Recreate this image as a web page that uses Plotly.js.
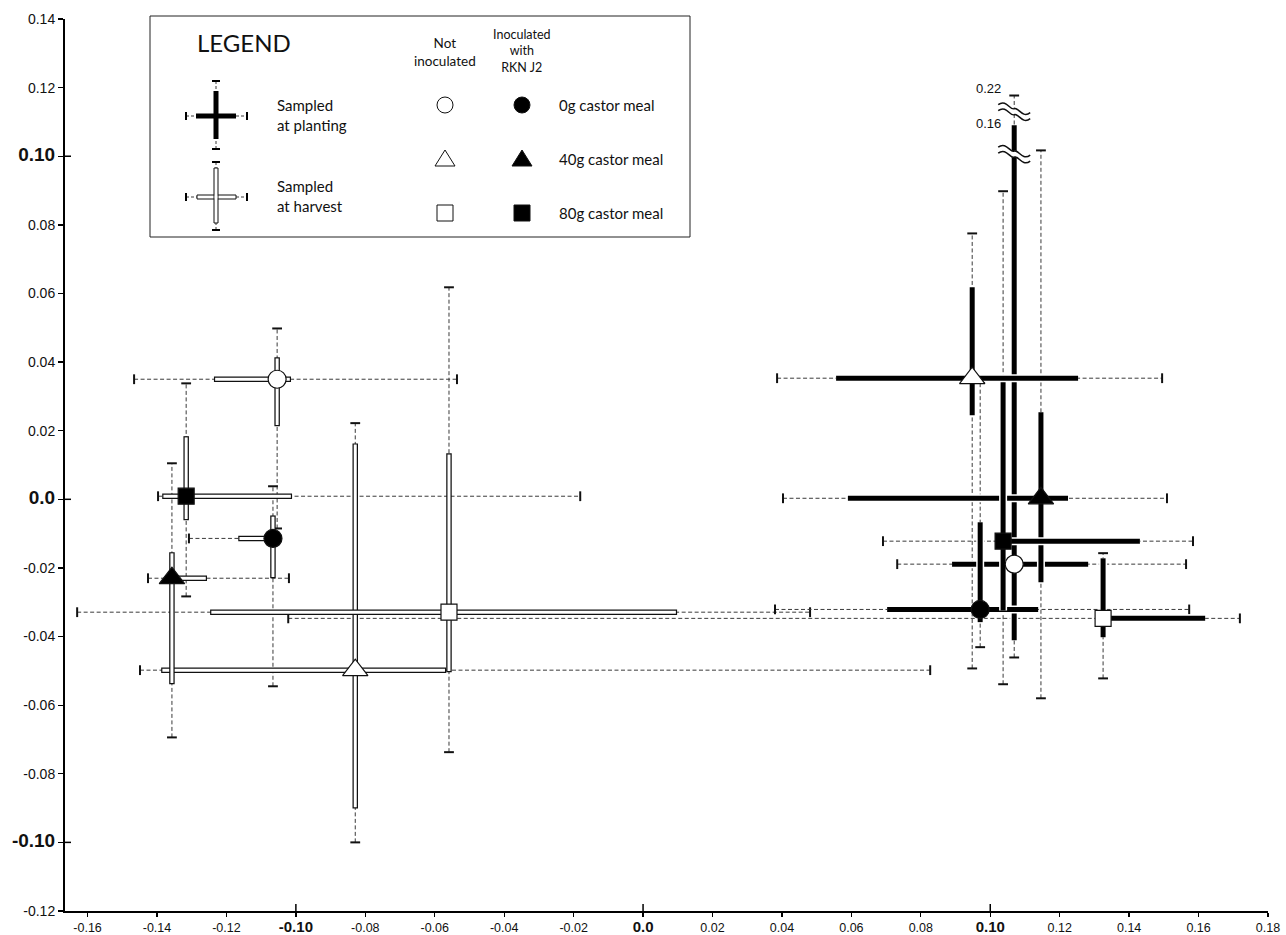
<!DOCTYPE html>
<html><head><meta charset="utf-8">
<script src="https://cdn.plot.ly/plotly-3.0.1.min.js"></script>
<style>html,body{margin:0;padding:0;background:#fff}#chart{width:1286px;height:935px}</style>
</head><body><div id="chart"></div>
<script>
// ---------- DATA ----------
// treatment order: 0g not inoc, 0g inoc, 40g not inoc, 40g inoc, 80g not inoc, 80g inoc
const treatments = ['0g castor meal','0g castor meal','40g castor meal','40g castor meal','80g castor meal','80g castor meal'];
const inoculated = [false, true, false, true, false, true];
const symbols = ['circle','circle','triangle-up','triangle-up','square','square'];

// Sampled at harvest
const harvestX       = [-0.1054, -0.1066, -0.0829, -0.1357, -0.0559, -0.1316];
const harvestY       = [ 0.0350, -0.0114, -0.0498, -0.0230, -0.0329,  0.0009];
const harvestXInLo   = [-0.1236, -0.1166, -0.1388, -0.1377, -0.1247, -0.1385];
const harvestXInHi   = [-0.1014, -0.1066, -0.0567, -0.1256,  0.0098, -0.1011];
const harvestXOutLo  = [-0.1466, -0.1308, -0.1449, -0.1426, -0.1630, -0.1397];
const harvestXOutHi  = [-0.0536, -0.1066,  0.0827, -0.1020,  0.0481, -0.0181];
const harvestYInLo   = [ 0.0213, -0.0230, -0.0901, -0.0539, -0.0504, -0.0061];
const harvestYInHi   = [ 0.0414, -0.0047,  0.0163, -0.0154,  0.0134,  0.0184];
const harvestYOutLo  = [-0.0085, -0.0545, -0.1000, -0.0694, -0.0737, -0.0283];
const harvestYOutHi  = [ 0.0498,  0.0038,  0.0222,  0.0105,  0.0618,  0.0338];

// Sampled at planting
const plantingX      = [ 0.1069,  0.0971,  0.0948,  0.1146,  0.1325,  0.1037];
const plantingY      = [-0.0189, -0.0321,  0.0353,  0.0003, -0.0347, -0.0122];
const plantingXInLo  = [ 0.0890,  0.0703,  0.0556,  0.0590,  0.1325,  0.1037];
const plantingXInHi  = [ 0.1282,  0.1138,  0.1253,  0.1224,  0.1619,  0.1431];
const plantingXOutLo = [ 0.0732,  0.0380,  0.0386,  0.0403, -0.1022,  0.0691];
const plantingXOutHi = [ 0.1564,  0.1573,  0.1495,  0.1509,  0.1719,  0.1584];
const plantingYInLo  = [-0.0411, -0.0358,  0.0245, -0.0242, -0.0402, -0.0324];
const plantingYInHi  = [ 0.16,   -0.0067,  0.0618,  0.0254, -0.0172,  0.0341];
const plantingYOutLo = [-0.0461, -0.0431, -0.0493, -0.0580, -0.0522, -0.0539];
const plantingYOutHi = [ 0.22,    0.0341,  0.0775,  0.1017, -0.0157,  0.0898];

// broken axis: real values above the axis top and where they are drawn
const breakValues  = [0.16, 0.22];
const breakDisplay = [0.1090, 0.1177];
const breakLabels  = ['0.16', '0.22'];

// axis ticks
const xTickVals   = [-0.16,-0.14,-0.12,-0.10,-0.08,-0.06,-0.04,-0.02,0,0.02,0.04,0.06,0.08,0.10,0.12,0.14,0.16,0.18];
const xTickLabels = ['-0.16','-0.14','-0.12','-0.10','-0.08','-0.06','-0.04','-0.02','0.0','0.02','0.04','0.06','0.08','0.10','0.12','0.14','0.16','0.18'];
const yTickVals   = [0.14,0.12,0.10,0.08,0.06,0.04,0.02,0,-0.02,-0.04,-0.06,-0.08,-0.10,-0.12];
const yTickLabels = ['0.14','0.12','0.10','0.08','0.06','0.04','0.02','0.0','-0.02','-0.04','-0.06','-0.08','-0.10','-0.12'];
const boldTicks   = ['-0.10','0.0','0.10'];

// legend texts
const legendTitle = 'LEGEND';
const stageLabels = ['Sampled<br>at planting', 'Sampled<br>at harvest'];
const columnLabels = ['Not<br>inoculated', 'Inoculated<br>with<br>RKN J2'];
const rowLabels = ['0g castor meal', '40g castor meal', '80g castor meal'];

// ---------- LAYOUT GEOMETRY ----------
const FIG_W = 1286, FIG_H = 935;
const M = {l: 65, r: 18, t: 19, b: 24};
const L = M.l, R = FIG_W - M.r, T = M.t, B = FIG_H - M.b;
const PW = R - L, PH = B - T;
const X_RANGE = [-0.1665, 0.18], Y_RANGE = [-0.12, 0.14];
const pxX = x => (x - L) / PW;
const pxY = y => (B - y) / PH;
const dataPerPxX = (X_RANGE[1] - X_RANGE[0]) / PW;
const dataPerPxY = (Y_RANGE[1] - Y_RANGE[0]) / PH;

function disp(v) {
  if (v <= Y_RANGE[1]) return v;
  const [v0, v1] = breakValues, [d0, d1] = breakDisplay;
  return d0 + (v - v0) * (d1 - d0) / (v1 - v0);
}

function stage(xs, ys, xil, xih, xol, xoh, yil, yih, yol, yoh) {
  return {x: xs, y: ys, xInLo: xil, xInHi: xih, xOutLo: xol, xOutHi: xoh, yInLo: yil, yInHi: yih, yOutLo: yol, yOutHi: yoh};
}
const harvest = stage(harvestX, harvestY, harvestXInLo, harvestXInHi, harvestXOutLo, harvestXOutHi, harvestYInLo, harvestYInHi, harvestYOutLo, harvestYOutHi);
const planting = stage(plantingX, plantingY, plantingXInLo, plantingXInHi, plantingXOutLo, plantingXOutHi, plantingYInLo, plantingYInHi, plantingYOutLo, plantingYOutHi);

const DASH_COLOR = '#3a3a3a';
function dashedTraces(S) {
  const dx = [], dy = [], chx = [], chy = [], cvx = [], cvy = [];
  for (let i = 0; i < S.x.length; i++) {
    dx.push(S.xOutLo[i], S.xOutHi[i], null, S.x[i], S.x[i], null);
    dy.push(S.y[i], S.y[i], null, disp(S.yOutLo[i]), disp(S.yOutHi[i]), null);
    if (S.xOutLo[i] < S.x[i] - 1e-6) { chx.push(S.xOutLo[i]); chy.push(S.y[i]); }
    if (S.xOutHi[i] > S.x[i] + 1e-6) { chx.push(S.xOutHi[i]); chy.push(S.y[i]); }
    if (S.yOutLo[i] < S.y[i] - 1e-6) { cvx.push(S.x[i]); cvy.push(disp(S.yOutLo[i])); }
    if (S.yOutHi[i] > S.y[i] + 1e-6) { cvx.push(S.x[i]); cvy.push(disp(S.yOutHi[i])); }
  }
  return [
    {type: 'scatter', mode: 'lines', x: dx, y: dy, line: {color: DASH_COLOR, width: 1, dash: '4px,2.5px'}, hoverinfo: 'skip', showlegend: false},
    {type: 'scatter', mode: 'markers', x: chx, y: chy, marker: {symbol: 'line-ns', size: 7, opacity: 1, color: '#111', line: {color: '#111', width: 2}}, hoverinfo: 'skip', showlegend: false},
    {type: 'scatter', mode: 'markers', x: cvx, y: cvy, marker: {symbol: 'line-ew', size: 7, opacity: 1, color: '#111', line: {color: '#111', width: 2}}, hoverinfo: 'skip', showlegend: false}
  ];
}

function barTraces(S, isPlanting) {
  const out = [];
  const ex = 1.2 * dataPerPxX, ey = 1.2 * dataPerPxY;
  for (let i = 0; i < S.x.length; i++) {
    const bx = [S.xInLo[i], S.xInHi[i], null, S.x[i], S.x[i]];
    const by = [S.y[i], S.y[i], null, disp(S.yInLo[i]), disp(S.yInHi[i])];
    if (isPlanting) {
      out.push({type: 'scatter', mode: 'lines', x: bx, y: by, line: {color: '#fff', width: 8}, hoverinfo: 'skip', showlegend: false});
      out.push({type: 'scatter', mode: 'lines', x: bx, y: by, line: {color: '#000', width: 5}, hoverinfo: 'skip', showlegend: false});
    } else {
      const fx = [S.xInLo[i] + ex, S.xInHi[i] - ex, null, S.x[i], S.x[i]];
      const fy = [S.y[i], S.y[i], null, disp(S.yInLo[i]) + ey, disp(S.yInHi[i]) - ey];
      out.push({type: 'scatter', mode: 'lines', x: bx, y: by, line: {color: '#111', width: 5.5}, hoverinfo: 'skip', showlegend: false});
      out.push({type: 'scatter', mode: 'lines', x: fx, y: fy, line: {color: '#fff', width: 3}, hoverinfo: 'skip', showlegend: false});
    }
  }
  return out;
}

function markerTrace(S) {
  return {
    type: 'scatter', mode: 'markers', x: S.x, y: S.y, hoverinfo: 'skip', showlegend: false,
    marker: {
      symbol: symbols, opacity: 1,
      size: symbols.map(s => s === 'triangle-up' ? 22 : (s === 'square' ? 16 : 18)),
      color: inoculated.map(f => f ? '#000' : '#fff'),
      line: {color: '#111', width: 1.2}
    }
  };
}

const traces = [].concat(
  dashedTraces(harvest), dashedTraces(planting),
  barTraces(harvest, false), barTraces(planting, true),
  [markerTrace(harvest), markerTrace(planting)]
);

// ---------- SHAPES & ANNOTATIONS ----------
const shapes = [], annotations = [];
const LEG_FONT = 'Lato, "Open Sans", sans-serif';

function lineP(x0, y0, x1, y1, w, dash, color) {
  shapes.push({type: 'line', xref: 'paper', yref: 'paper', x0: pxX(x0), y0: pxY(y0), x1: pxX(x1), y1: pxY(y1),
    line: {color: color || '#000', width: w || 1, dash: dash || 'solid'}});
}
function rectP(x0, y0, x1, y1, fill, lc, lw) {
  shapes.push({type: 'rect', xref: 'paper', yref: 'paper', x0: pxX(x0), y0: pxY(y1), x1: pxX(x1), y1: pxY(y0),
    fillcolor: fill, line: {color: lc || fill, width: lw === undefined ? 0 : lw}});
}
function textP(x, y, text, size, anchor, family, extra) {
  annotations.push(Object.assign({xref: 'paper', yref: 'paper', x: pxX(x), y: pxY(y), text: text, showarrow: false,
    xanchor: anchor || 'left', yanchor: 'middle', font: {family: family || LEG_FONT, size: size, color: '#111'}}, extra || {}));
}

// legend box
rectP(150, 16, 690, 237, 'rgba(0,0,0,0)', '#222', 1);
textP(195, 42, legendTitle, 24, 'left');

// legend crosses
function legendCross(cx, cy, filled) {
  lineP(cx - 30, cy, cx + 31, cy, 1, '3px,2px', DASH_COLOR);
  lineP(cx - 30, cy - 4, cx - 30, cy + 4, 2);
  lineP(cx + 31, cy - 4, cx + 31, cy + 4, 2);
  lineP(cx, cy - 35, cx, cy + 33, 1, '3px,2px', DASH_COLOR);
  lineP(cx - 4, cy - 35, cx + 4, cy - 35, 2);
  lineP(cx - 4, cy + 33, cx + 4, cy + 33, 2);
  if (filled) {
    rectP(cx - 20, cy - 2.5, cx + 20, cy + 2.5, '#000');
    rectP(cx - 2.5, cy - 25, cx + 2.5, cy + 23, '#000');
  } else {
    rectP(cx - 19, cy - 2, cx + 20, cy + 2, '#fff', '#111', 1);
    rectP(cx - 2, cy - 29, cx + 2, cy + 26, '#fff', '#111', 1);
    rectP(cx - 1.3, cy - 1.3, cx + 1.3, cy + 1.3, '#fff');
  }
}
legendCross(216, 116, true);
legendCross(216, 197, false);
textP(275, 115, stageLabels[0], 15, 'left', LEG_FONT, {align: 'left'});
textP(275, 196, stageLabels[1], 15, 'left', LEG_FONT, {align: 'left'});
textP(445, 52, columnLabels[0], 13.5, 'center', LEG_FONT, {align: 'center'});
textP(522, 51, columnLabels[1], 12.5, 'center', LEG_FONT, {align: 'center'});

const rowY = [105, 159, 213], colX = [445, 522];
function legendSymbol(kind, cx, cy, filled) {
  const fill = filled ? '#000' : '#fff';
  if (kind === 'circle') {
    shapes.push({type: 'circle', xref: 'paper', yref: 'paper', x0: pxX(cx - 8), x1: pxX(cx + 8), y0: pxY(cy + 8), y1: pxY(cy - 8),
      fillcolor: fill, line: {color: '#111', width: 1}});
  } else if (kind === 'square') {
    rectP(cx - 8, cy - 8, cx + 8, cy + 8, fill, '#111', 1);
  } else {
    shapes.push({type: 'path', xref: 'paper', yref: 'paper',
      path: 'M' + pxX(cx - 10) + ',' + pxY(cy + 7) + ' L' + pxX(cx + 10) + ',' + pxY(cy + 7) + ' L' + pxX(cx) + ',' + pxY(cy - 9) + ' Z',
      fillcolor: fill, line: {color: '#111', width: 1}});
  }
}
for (let r = 0; r < 3; r++) {
  legendSymbol(symbols[2 * r], colX[0], rowY[r], inoculated[2 * r]);
  legendSymbol(symbols[2 * r + 1], colX[1], rowY[r], inoculated[2 * r + 1]);
  textP(557, rowY[r], rowLabels[r], 15, 'left');
}

// axis break marks on the broken bar (open circle, sampled at planting)
const brokenIdx = plantingYOutHi.findIndex(v => v > Y_RANGE[1]);
const bx = plantingX[brokenIdx];
const wave1 = 'M-16,4 C-8,10 -4,-2 0,0 C4,2 8,-10 16,-4';
const wave2 = 'M-16,-2 C-8,4 -4,-8 0,-6 C4,-4 8,-16 16,-10';
const band = 'M-16,4 C-8,10 -4,-2 0,0 C4,2 8,-10 16,-4 L16,-10 C8,-16 4,-4 0,-6 C-4,-8 -8,4 -16,-2 Z';
const breakMarkY = [disp(breakValues[0]) - 0.0075, (disp(breakValues[0]) + disp(breakValues[1])) / 2 + 0.0005];
breakMarkY.forEach(yv => {
  const base = {type: 'path', xref: 'x', yref: 'y', xsizemode: 'pixel', ysizemode: 'pixel', xanchor: bx, yanchor: yv};
  shapes.push(Object.assign({}, base, {path: band, fillcolor: '#fff', line: {width: 0}}));
  shapes.push(Object.assign({}, base, {path: wave1, line: {color: '#111', width: 1.5}}));
  shapes.push(Object.assign({}, base, {path: wave2, line: {color: '#111', width: 1.5}}));
});
breakLabels.forEach((t, k) => {
  annotations.push({xref: 'x', yref: 'y', x: bx, y: breakDisplay[k], xshift: -26, yshift: k === 1 ? 7 : 2,
    text: t, showarrow: false, xanchor: 'center', yanchor: 'middle', font: {family: 'Liberation Sans, Arial, sans-serif', size: 13, color: '#111'}});
});

// emphasised ticks crossing the axes
xTickVals.forEach((v, k) => {
  if (boldTicks.includes(xTickLabels[k])) shapes.push({type: 'line', xref: 'x', yref: 'paper', x0: v, x1: v, y0: 0, y1: 7 / PH, line: {color: '#000', width: 1.5}});
});
yTickVals.forEach((v, k) => {
  if (boldTicks.includes(yTickLabels[k])) shapes.push({type: 'line', xref: 'paper', yref: 'y', x0: 0, x1: 6 / PW, y0: v, y1: v, line: {color: '#000', width: 1.5}});
});

const fmtTick = (t, big) => boldTicks.includes(t) ? '<b><span style="font-size:' + big + 'px">' + t + '</span></b>' : t;

const layout = {
  width: FIG_W, height: FIG_H,
  margin: M,
  paper_bgcolor: '#fff', plot_bgcolor: '#fff',
  showlegend: false, hovermode: false,
  font: {family: 'Liberation Sans, Arial, sans-serif', color: '#111'},
  xaxis: {
    range: X_RANGE, showgrid: false, zeroline: false, showline: true, linecolor: '#000', linewidth: 2,
    ticks: 'outside', ticklen: 4, tickwidth: 1.3, tickcolor: '#000',
    tickvals: xTickVals, ticktext: xTickLabels.map(t => fmtTick(t, 15)),
    tickfont: {size: 12.5, color: '#111'}
  },
  yaxis: {
    range: Y_RANGE, showgrid: false, zeroline: false, showline: true, linecolor: '#000', linewidth: 2,
    ticks: 'outside', ticklen: 5, tickwidth: 1.3, tickcolor: '#000',
    tickvals: yTickVals, ticktext: yTickLabels.map(t => fmtTick(t, 19)),
    tickfont: {size: 14, color: '#111'}
  },
  shapes: shapes,
  annotations: annotations
};

Plotly.newPlot('chart', traces, layout, {staticPlot: true, displayModeBar: false});
</script>
</body></html>
